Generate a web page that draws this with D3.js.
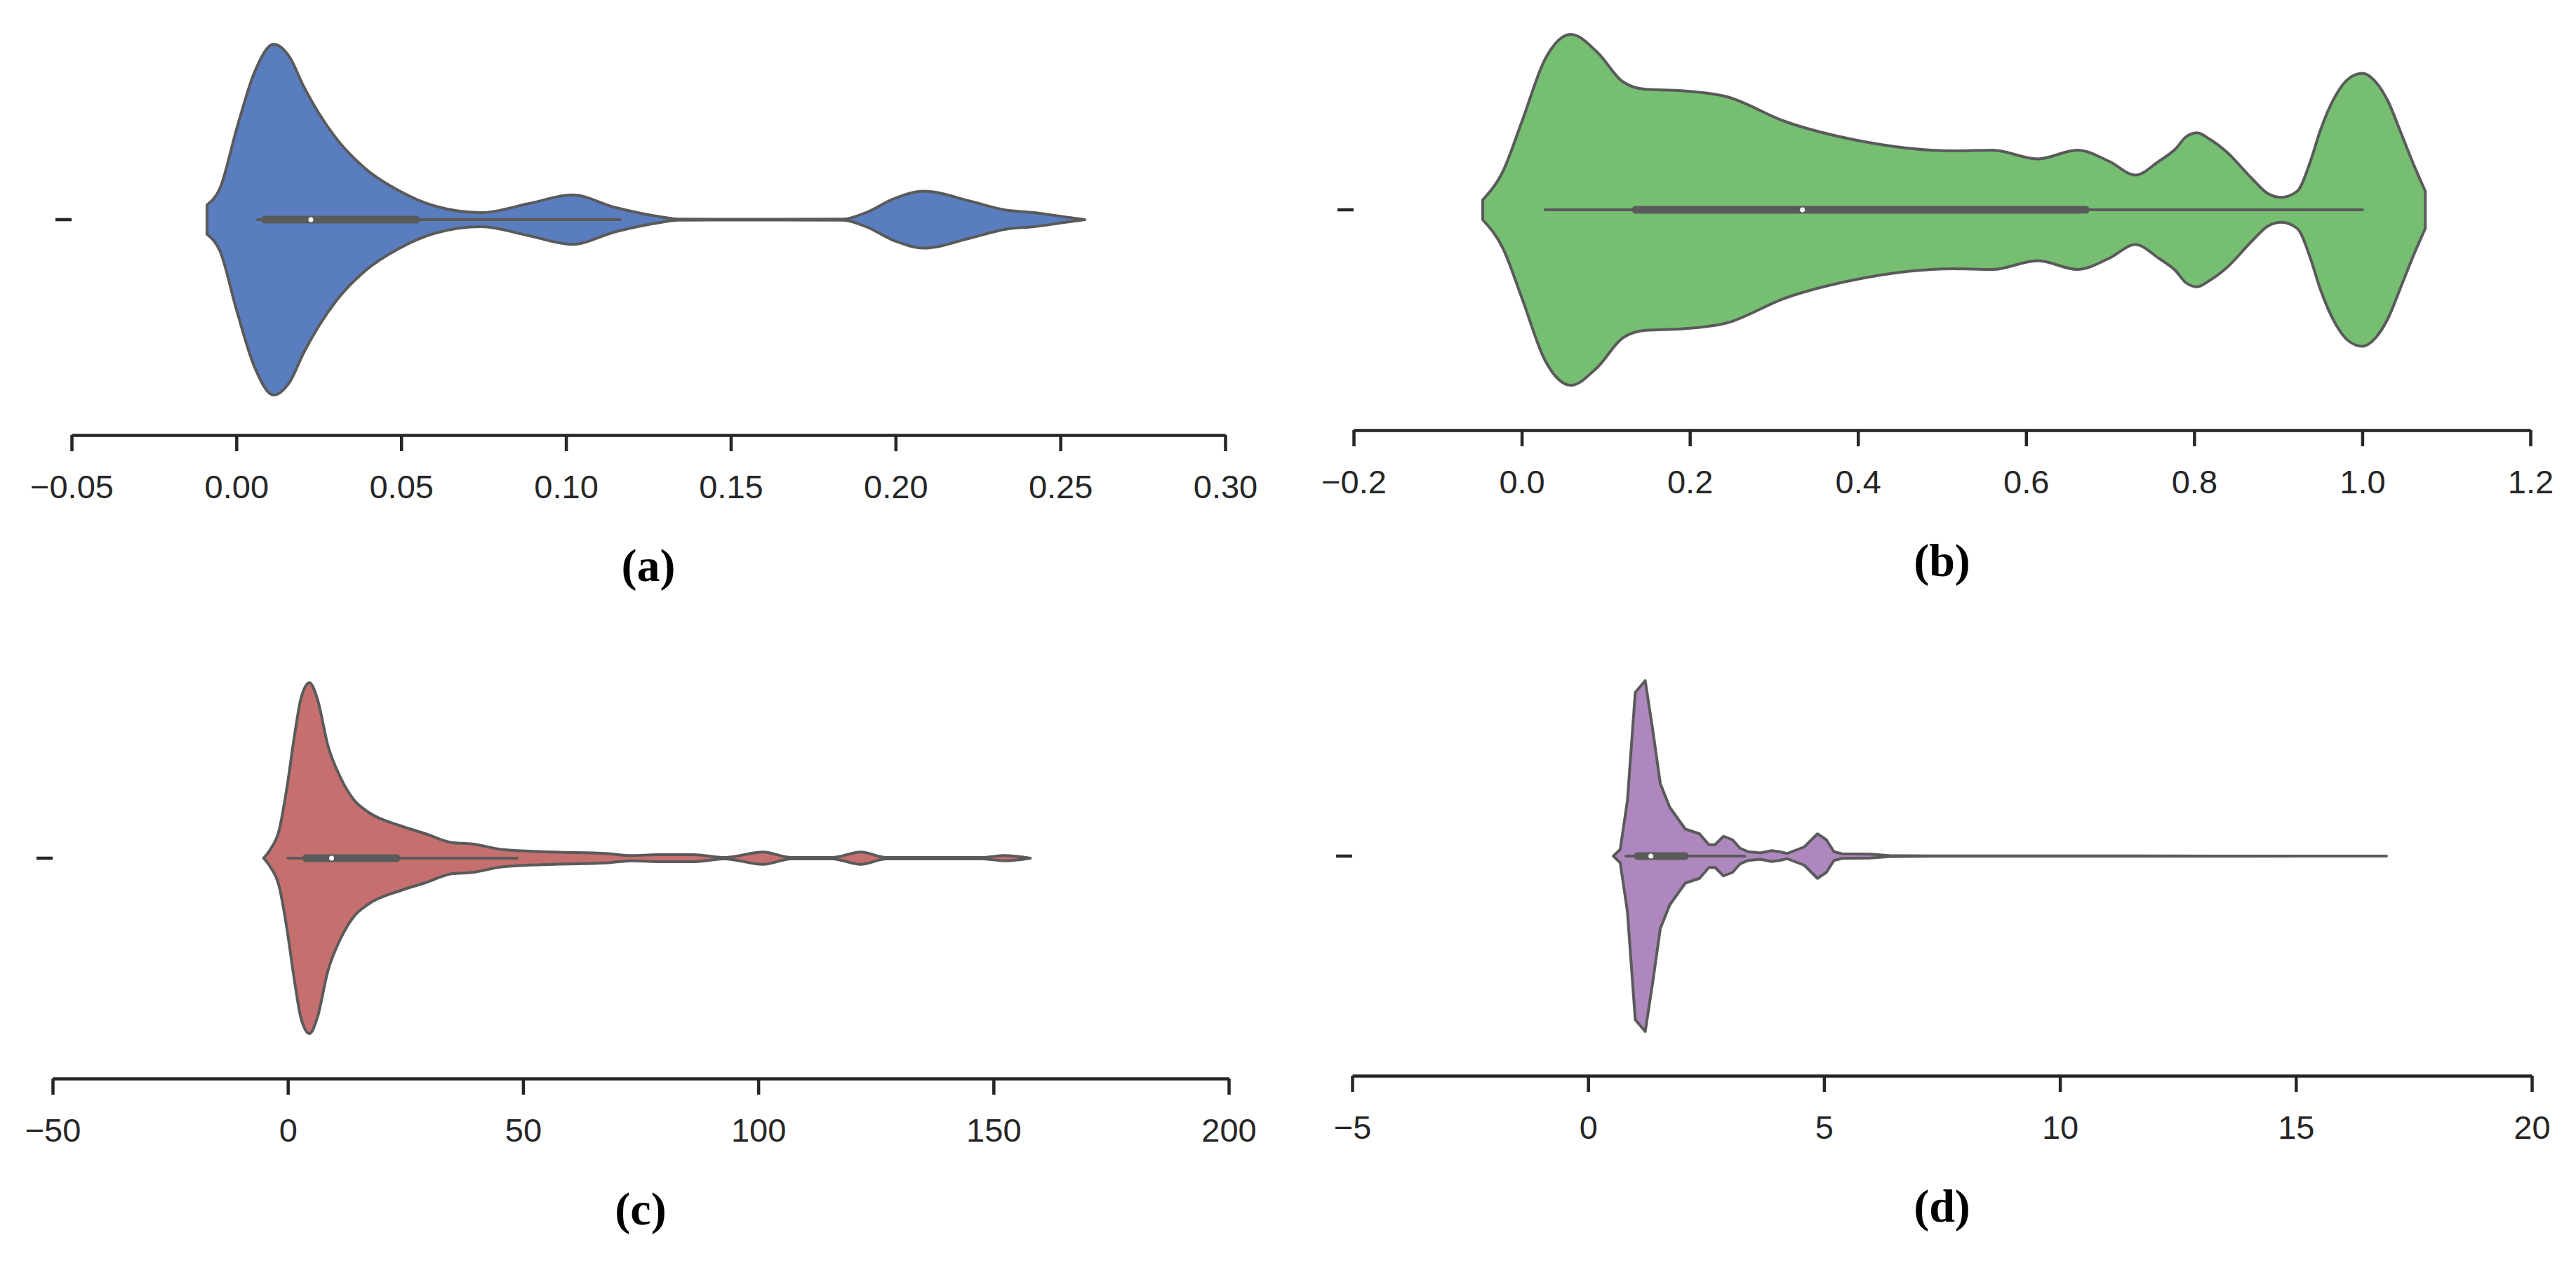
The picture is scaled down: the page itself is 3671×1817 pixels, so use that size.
<!DOCTYPE html>
<html>
<head>
<meta charset="utf-8">
<script src="https://cdn.jsdelivr.net/npm/d3@7"></script>
<style>
  body { margin: 0; background: #fff; }
  svg { display: block; }
</style>
</head>
<body>
<div id="chart"></div>
<script>
// Violin outlines: positions along the value axis and the relative density (1 = widest point)
const aPos = [-0.0089, -0.005, 0.0002, 0.0055, 0.0113, 0.0162, 0.0205, 0.0249, 0.0302, 0.039, 0.0496, 0.0603, 0.0743, 0.0886, 0.1019, 0.115, 0.129, 0.134, 0.16, 0.184, 0.191, 0.1997, 0.2086, 0.2227, 0.2333, 0.242, 0.2527, 0.2574];
const aDen = [0.084, 0.178, 0.525, 0.84, 1.0, 0.925, 0.756, 0.61, 0.465, 0.293, 0.162, 0.077, 0.04, 0.091, 0.141, 0.069, 0.015, 0.003, 0.002, 0.003, 0.04, 0.121, 0.162, 0.105, 0.055, 0.04, 0.012, 0];

const bPos = [-0.0464, -0.0225, 0.0003, 0.0276, 0.0585, 0.0894, 0.1203, 0.147, 0.19, 0.2438, 0.313, 0.398, 0.514, 0.560, 0.614, 0.661, 0.699, 0.730, 0.7578, 0.7784, 0.79, 0.8035, 0.818, 0.838, 0.869, 0.888, 0.9036, 0.9228, 0.9383, 0.9496, 0.9692, 0.9846, 1.0003, 1.0158, 1.031, 1.0465, 1.062, 1.075];
const bDen = [0.057, 0.218, 0.504, 0.857, 1.0, 0.901, 0.730, 0.687, 0.679, 0.645, 0.504, 0.397, 0.336, 0.340, 0.290, 0.340, 0.276, 0.198, 0.276, 0.35, 0.415, 0.439, 0.404, 0.333, 0.177, 0.092, 0.071, 0.107, 0.276, 0.446, 0.659, 0.751, 0.778, 0.730, 0.615, 0.433, 0.248, 0.106];

const cPos = [-5.15, -3.7, -1.86, -0.2, 1.4, 2.8, 4.6, 6.3, 8.5, 11.3, 14.0, 17.3, 23.8, 29.3, 34.8, 39.2, 45.7, 56.7, 67.6, 73.1, 78.5, 86.2, 92.8, 101.0, 107, 115.7, 121.8, 127.2, 147.5, 152.4, 157.8];
const cDen = [0, 0.051, 0.159, 0.401, 0.697, 0.912, 1.0, 0.906, 0.644, 0.454, 0.334, 0.259, 0.186, 0.139, 0.089, 0.081, 0.049, 0.035, 0.027, 0.015, 0.02, 0.02, 0.004, 0.035, 0.004, 0.004, 0.035, 0.004, 0.004, 0.015, 0];

const dPos = [0.534, 0.68, 0.833, 0.9995, 1.21, 1.364, 1.53, 1.73, 2.06, 2.36, 2.56, 2.69, 2.87, 3.06, 3.22, 3.39, 3.65, 3.89, 4.05, 4.22, 4.58, 4.86, 5.05, 5.21, 5.38, 5.98, 6.38, 7.24, 10, 13.5, 16.92];
const dDen = [0, 0.038, 0.317, 0.933, 1.0, 0.729, 0.413, 0.278, 0.154, 0.127, 0.065, 0.065, 0.113, 0.093, 0.045, 0.025, 0.018, 0.031, 0.025, 0.015, 0.052, 0.127, 0.093, 0.025, 0.013, 0.011, 0.003, 0.001, 0.001, 0.0005, 0];

// Inner box: [whisker low, q1, median, q3, whisker high]
const aBox = [0.0064, 0.0087, 0.0226, 0.0545, 0.1165];
const bBox = [0.0276, 0.1356, 0.334, 0.671, 1.0003];
const cBox = [0, 3.9, 9.3, 23.1, 48.7];
const dBox = [0.8, 1.05, 1.33, 2.05, 3.32];

// Axis ticks
const aTicks = [-0.05, 0, 0.05, 0.10, 0.15, 0.20, 0.25, 0.30];
const bTicks = [-0.2, 0, 0.2, 0.4, 0.6, 0.8, 1.0, 1.2];
const cTicks = [-50, 0, 50, 100, 150, 200];
const dTicks = [-5, 0, 5, 10, 15, 20];
const aTickLabels = ["\u22120.05", "0.00", "0.05", "0.10", "0.15", "0.20", "0.25", "0.30"];
const bTickLabels = ["\u22120.2", "0.0", "0.2", "0.4", "0.6", "0.8", "1.0", "1.2"];
const cTickLabels = ["\u221250", "0", "50", "100", "150", "200"];
const dTickLabels = ["\u22125", "0", "5", "10", "15", "20"];

const panelNames = ["(a)", "(b)", "(c)", "(d)"];
const fills = ["#5a7dbf", "#76be72", "#c56f6f", "#ad87bd"];

const W = 3671, H = 1817;
const svg = d3.select("#chart").append("svg")
    .attr("width", W)
    .attr("height", H)
    .attr("viewBox", `0 0 ${W} ${H}`);

svg.append("rect").attr("width", W).attr("height", H).attr("fill", "#fff");

// pixel layout of each panel
const panels = [
    { pos: aPos, den: aDen, box: aBox, ticks: aTicks, labels: aTickLabels, x0: 102, x1: 1746, axisY: 620, cy: 313, curve: d3.curveMonotoneX },
    { pos: bPos, den: bDen, box: bBox, ticks: bTicks, labels: bTickLabels, x0: 1929, x1: 3606, axisY: 613, cy: 299, curve: d3.curveMonotoneX },
    { pos: cPos, den: cDen, box: cBox, ticks: cTicks, labels: cTickLabels, x0: 75, x1: 1751, axisY: 1537, cy: 1223, curve: d3.curveMonotoneX },
    { pos: dPos, den: dDen, box: dBox, ticks: dTicks, labels: dTickLabels, x0: 1927, x1: 3608, axisY: 1533, cy: 1220, curve: d3.curveLinear }
];

const axisColor = "#262626";
const lineColor = "#5a5a5a";

panels.forEach((p, i) => {
    const g = svg.append("g");

    const x = d3.scaleLinear()
        .domain(d3.extent(p.ticks))
        .range([p.x0, p.x1]);

    const y = d3.scaleBand()
        .domain([""])
        .range([p.cy - 312.5, p.cy + 312.5]);
    const cy = y("") + y.bandwidth() / 2;

    // half width of the violin
    const w = d3.scaleLinear()
        .domain([0, 1])
        .range([0, y.bandwidth() * 0.4]);

    const pts = p.pos.map((v, k) => ({ v: v, d: p.den[k] }));

    // violin body
    g.append("path")
        .datum(pts)
        .attr("fill", fills[i])
        .attr("stroke", lineColor)
        .attr("stroke-width", 4)
        .attr("stroke-linejoin", "round")
        .attr("d", d3.area()
            .curve(p.curve)
            .x(d => x(d.v))
            .y0(d => cy - w(d.d))
            .y1(d => cy + w(d.d)));

    // whiskers
    g.append("line")
        .attr("x1", x(p.box[0]))
        .attr("x2", x(p.box[4]))
        .attr("y1", cy)
        .attr("y2", cy)
        .attr("stroke", lineColor)
        .attr("stroke-width", 4)
        .attr("stroke-linecap", "round");

    // interquartile box
    g.append("line")
        .attr("x1", x(p.box[1]))
        .attr("x2", x(p.box[3]))
        .attr("y1", cy)
        .attr("y2", cy)
        .attr("stroke", lineColor)
        .attr("stroke-width", 11)
        .attr("stroke-linecap", "round");

    // median
    g.append("circle")
        .attr("cx", x(p.box[2]))
        .attr("cy", cy)
        .attr("r", 3.5)
        .attr("fill", "#fff");

    // x axis
    const xAxis = g.append("g")
        .attr("transform", `translate(0,${p.axisY})`)
        .call(d3.axisBottom(x)
            .tickValues(p.ticks)
            .tickFormat((d, k) => p.labels[k])
            .tickSize(23)
            .tickSizeOuter(0)
            .tickPadding(34));
    xAxis.select(".domain").attr("stroke", axisColor).attr("stroke-width", 4.5);
    xAxis.selectAll(".tick line").attr("stroke", axisColor).attr("stroke-width", 4.5);
    xAxis.selectAll(".tick text")
        .attr("fill", axisColor)
        .attr("font-family", "'Liberation Sans', Arial, sans-serif")
        .attr("font-size", "47px");

    // category axis: only a single tick
    const yAxis = g.append("g")
        .attr("transform", `translate(${p.x0},0)`)
        .call(d3.axisLeft(y).tickSize(23).tickFormat(""));
    yAxis.select(".domain").remove();
    yAxis.selectAll(".tick line").attr("stroke", axisColor).attr("stroke-width", 4.5);

    // panel caption
    g.append("text")
        .attr("x", (p.x0 + p.x1) / 2)
        .attr("y", p.axisY + 208)
        .attr("text-anchor", "middle")
        .attr("font-family", "'Liberation Serif', 'Times New Roman', serif")
        .attr("font-weight", "bold")
        .attr("font-size", "66px")
        .attr("fill", "#000")
        .text(panelNames[i]);
});
</script>
</body>
</html>
